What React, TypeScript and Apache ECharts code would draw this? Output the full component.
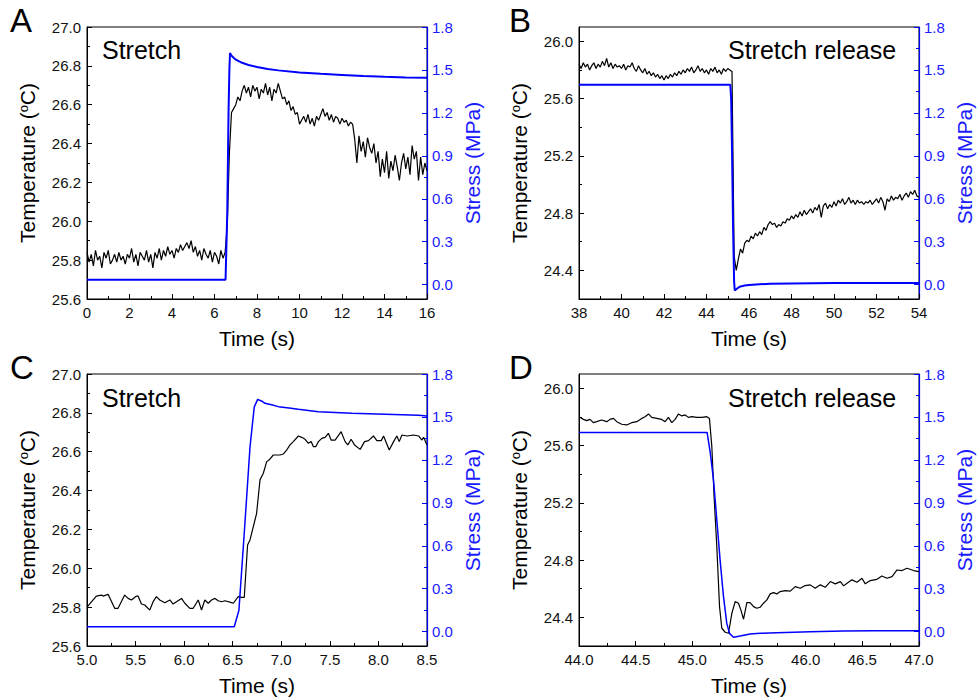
import React, { useEffect, useRef } from "react";
import * as echarts from "echarts";

const FONT = "'Liberation Sans', Arial, Helvetica, sans-serif";
const BLUE = "#0000ff";
const BLUE_TEXT = "#1a1aff";

// ---------- Panel A (Stretch, 0–16 s), temperature sampled every 0.1 s ----------
const A_T0 = 0;
const A_DT = 0.1;
const A_TEMP = [
  25.84, 25.79, 25.83, 25.77, 25.85, 25.8, 25.82, 25.76, 25.84, 25.81,
  25.85, 25.78, 25.8, 25.83, 25.79, 25.84, 25.8, 25.82, 25.78, 25.83,
  25.81, 25.86, 25.79, 25.83, 25.77, 25.84, 25.82, 25.8, 25.85, 25.79,
  25.83, 25.76, 25.84, 25.81, 25.86, 25.8, 25.85, 25.82, 25.87, 25.83,
  25.85, 25.81, 25.86, 25.84, 25.88, 25.85, 25.87, 25.89, 25.86, 25.9,
  25.84, 25.87, 25.82, 25.85, 25.8, 25.86, 25.83, 25.81, 25.85, 25.79,
  25.84, 25.82, 25.78, 25.85, 25.81, 25.84,
  25.98, 26.35, 26.56, 26.58,
  26.6, 26.64, 26.62, 26.67, 26.7, 26.66, 26.69, 26.64, 26.7, 26.67,
  26.69, 26.63, 26.68, 26.66, 26.71, 26.65, 26.69, 26.62, 26.68, 26.66,
  26.71, 26.67, 26.63, 26.64, 26.6, 26.62, 26.57, 26.59, 26.55, 26.56,
  26.5, 26.52, 26.54, 26.51, 26.55, 26.5, 26.53, 26.49, 26.54, 26.52,
  26.55, 26.58, 26.54, 26.56, 26.52, 26.55, 26.51, 26.54, 26.53, 26.5,
  26.53, 26.51, 26.52, 26.49, 26.51, 26.5, 26.42, 26.3, 26.44, 26.36,
  26.41, 26.33, 26.43, 26.38, 26.35, 26.4, 26.3, 26.36, 26.23, 26.32,
  26.25, 26.36, 26.22, 26.31, 26.26, 26.34, 26.28, 26.21, 26.3, 26.35,
  26.27, 26.33, 26.24, 26.39, 26.32, 26.36, 26.21, 26.33, 26.24, 26.3,
  26.26,
];
const A_STRESS_TIME = [0, 6.52, 6.6, 6.66, 6.7, 6.73, 6.8, 6.9, 7.0, 7.3, 7.6, 8.0, 8.5, 9.0, 10, 11, 12, 13, 14, 15, 16];
const A_STRESS = [0.035, 0.035, 0.5, 1.2, 1.5, 1.618, 1.6, 1.585, 1.572, 1.55, 1.535, 1.52, 1.507, 1.497, 1.483, 1.473, 1.465, 1.457, 1.452, 1.448, 1.445];

// ---------- Panel B (Stretch release, 38–54 s), temperature every 0.1 s ----------
const B_T0 = 38;
const B_DT = 0.1;
const B_TEMP = [
  25.84, 25.81, 25.85, 25.82, 25.84, 25.8, 25.83, 25.85, 25.81, 25.84,
  25.82, 25.86, 25.83, 25.88, 25.82, 25.85, 25.81, 25.84, 25.82, 25.83,
  25.81, 25.84, 25.8, 25.83, 25.82, 25.85, 25.81, 25.79, 25.83, 25.8,
  25.78, 25.81, 25.77, 25.79, 25.76, 25.78, 25.75, 25.77, 25.74, 25.76,
  25.73, 25.76, 25.74, 25.77, 25.75, 25.78, 25.76, 25.79, 25.77, 25.8,
  25.78, 25.81, 25.79, 25.82, 25.78, 25.8, 25.83, 25.79, 25.81, 25.78,
  25.8, 25.77, 25.81, 25.79, 25.82, 25.78, 25.8, 25.77, 25.81, 25.79,
  25.81, 25.8, 25.79,
  24.5, 24.4, 24.48,
  24.55, 24.52, 24.59, 24.61,
  24.6, 24.64, 24.62, 24.66, 24.64, 24.67, 24.65, 24.7, 24.68, 24.72,
  24.74, 24.72, 24.73, 24.7, 24.72, 24.71, 24.74, 24.73, 24.76, 24.75,
  24.78, 24.76, 24.79, 24.77, 24.81, 24.78, 24.82, 24.79, 24.81, 24.83,
  24.8, 24.84, 24.82, 24.86, 24.77, 24.85, 24.87, 24.83, 24.86, 24.84,
  24.88, 24.85, 24.89, 24.87, 24.9, 24.86, 24.88, 24.91, 24.87, 24.89,
  24.86, 24.89, 24.87, 24.88, 24.86, 24.88, 24.87, 24.89, 24.86, 24.88,
  24.9, 24.87, 24.91, 24.88, 24.82, 24.9, 24.88, 24.92, 24.89, 24.91,
  24.9, 24.93, 24.89, 24.92, 24.94, 24.91, 24.95, 24.93, 24.96, 24.92,
  24.91,
];
const B_STRESS_TIME = [38, 45.12, 45.16, 45.2, 45.25, 45.3, 45.33, 45.4, 45.5, 45.6, 45.8, 46.0, 46.5, 47.0, 48, 49, 50, 52, 54];
const B_STRESS = [1.397, 1.397, 1.3, 0.95, 0.4, 0.02, -0.04, -0.032, -0.02, -0.012, -0.006, -0.002, 0.003, 0.006, 0.008, 0.01, 0.011, 0.012, 0.012];

// ---------- Panel C (Stretch, 5.0–8.5 s) ----------
const C_TIME = [
  5.0, 5.096, 5.148, 5.165, 5.217, 5.285, 5.32, 5.388, 5.423, 5.457,
  5.509, 5.526, 5.56, 5.595, 5.646, 5.681, 5.715, 5.749, 5.801, 5.853,
  5.887, 5.921, 5.973, 6.007, 6.059, 6.093, 6.145, 6.179, 6.213, 6.248,
  6.282, 6.317, 6.351, 6.385, 6.42, 6.488, 6.506, 6.557, 6.592, 6.619,
  6.653, 6.678, 6.712, 6.746, 6.781, 6.815, 6.85, 6.873, 6.918, 6.987,
  7.021, 7.056, 7.09, 7.124, 7.176, 7.21, 7.245, 7.279, 7.307, 7.331,
  7.355, 7.382, 7.417, 7.451, 7.485, 7.513, 7.554, 7.616, 7.657, 7.685,
  7.719, 7.754, 7.812, 7.857, 7.898, 7.949, 7.984, 8.029, 8.053, 8.111,
  8.156, 8.19, 8.214, 8.242, 8.293, 8.362, 8.413, 8.448, 8.465, 8.5,
];
const C_TEMP = [
  25.8, 25.857, 25.862, 25.857, 25.866, 25.794, 25.794, 25.862, 25.845, 25.837,
  25.857, 25.857, 25.816, 25.811, 25.785, 25.828, 25.854, 25.837, 25.823, 25.837,
  25.816, 25.828, 25.845, 25.82, 25.794, 25.794, 25.837, 25.785, 25.837, 25.82,
  25.837, 25.845, 25.833, 25.828, 25.833, 25.823, 25.82, 25.854, 25.85, 25.85,
  26.12, 26.146, 26.214, 26.283, 26.455, 26.489, 26.549, 26.557, 26.583, 26.583,
  26.588, 26.609, 26.635, 26.652, 26.681, 26.674, 26.664, 26.643, 26.652, 26.626,
  26.626, 26.652, 26.669, 26.674, 26.695, 26.66, 26.66, 26.703, 26.652, 26.635,
  26.664, 26.635, 26.612, 26.652, 26.657, 26.681, 26.657, 26.657, 26.681, 26.609,
  26.652, 26.681, 26.652, 26.686, 26.681, 26.686, 26.681, 26.66, 26.674, 26.635,
];
const C_STRESS_TIME = [5.0, 6.516, 6.564, 6.62, 6.678, 6.722, 6.757, 6.8, 6.832, 6.9, 6.97, 7.08, 7.176, 7.382, 7.726, 8.07, 8.413, 8.5];
const C_STRESS = [0.035, 0.035, 0.15, 0.7, 1.29, 1.57, 1.623, 1.61, 1.595, 1.585, 1.572, 1.562, 1.553, 1.537, 1.525, 1.518, 1.511, 1.507];

// ---------- Panel D (Stretch release, 44–47 s) ----------
const D_TIME = [
  44.0, 44.039, 44.068, 44.097, 44.127, 44.156, 44.2, 44.245, 44.274, 44.304,
  44.333, 44.377, 44.421, 44.465, 44.51, 44.554, 44.583, 44.613, 44.642, 44.686,
  44.73, 44.76, 44.789, 44.819, 44.848, 44.878, 44.907, 44.936, 44.966, 44.995,
  45.039, 45.084, 45.128, 45.151, 45.172, 45.192, 45.216, 45.24, 45.26, 45.29,
  45.319, 45.349, 45.378, 45.407, 45.428, 45.452, 45.481, 45.51, 45.54, 45.569,
  45.599, 45.628, 45.658, 45.687, 45.716, 45.746, 45.775, 45.82, 45.864, 45.908,
  45.952, 45.996, 46.04, 46.084, 46.129, 46.173, 46.217, 46.261, 46.306, 46.335,
  46.365, 46.408, 46.453, 46.497, 46.526, 46.57, 46.629, 46.673, 46.717, 46.762,
  46.806, 46.85, 46.894, 46.953, 46.997,
];
const D_TEMP = [
  25.802, 25.783, 25.774, 25.783, 25.76, 25.767, 25.779, 25.767, 25.783, 25.79,
  25.767, 25.749, 25.744, 25.76, 25.767, 25.79, 25.802, 25.821, 25.797, 25.79,
  25.783, 25.767, 25.797, 25.76, 25.783, 25.821, 25.807, 25.814, 25.797, 25.802,
  25.797, 25.797, 25.802, 25.79, 25.593, 25.243, 24.894, 24.475, 24.324, 24.296,
  24.289, 24.429, 24.51, 24.499, 24.452, 24.387, 24.503, 24.503, 24.475, 24.464,
  24.471, 24.499, 24.522, 24.564, 24.573, 24.564, 24.58, 24.587, 24.583, 24.615,
  24.603, 24.622, 24.627, 24.603, 24.627, 24.61, 24.65, 24.634, 24.65, 24.62,
  24.638, 24.662, 24.645, 24.673, 24.634, 24.657, 24.666, 24.689, 24.673, 24.685,
  24.731, 24.727, 24.743, 24.727, 24.72,
];
const D_STRESS_TIME = [44.0, 45.13, 45.157, 45.187, 45.216, 45.245, 45.275, 45.304, 45.328, 45.363, 45.422, 45.51, 45.6, 45.746, 46.04, 46.335, 46.6, 47.0];
const D_STRESS = [1.392, 1.392, 1.257, 1.06, 0.78, 0.5, 0.245, 0.058, -0.012, -0.039, -0.03, -0.016, -0.011, -0.007, 0.0, 0.005, 0.006, 0.007];

// ---------- Tick labels ----------
const STRESS_TICKS = [0, 0.3, 0.6, 0.9, 1.2, 1.5, 1.8];
const STRESS_MINOR = [0.15, 0.45, 0.75, 1.05, 1.35, 1.65];
const REL_TEMP_TICKS = [24.4, 24.8, 25.2, 25.6, 26.0];
const REL_TEMP_MINOR = [24.6, 25.0, 25.4, 25.8];

const uniformPairs = (t0: number, dt: number, vals: number[]) =>
  vals.map((v, i) => [Math.round((t0 + i * dt) * 1000) / 1000, v]);
const zipPairs = (ts: number[], vs: number[]) => ts.map((t, i) => [t, vs[i]]);

const GRIDS = [
  { left: 87, top: 27, width: 340, height: 272 },
  { left: 579, top: 27, width: 340, height: 272 },
  { left: 87, top: 374, width: 340, height: 272 },
  { left: 579, top: 374, width: 340, height: 272 },
];

const tempName = "{t|Temperature (}{s|o}{t|C)}";
const tempNameStyle = {
  rich: {
    t: { fontSize: 21, fontFamily: FONT, color: "#000" },
    s: { fontSize: 13, fontFamily: FONT, color: "#000", verticalAlign: "top", lineHeight: 11 },
  },
};

function xAxis(gi: number, min: number, max: number, interval: number, dec: number) {
  return {
    type: "value",
    gridIndex: gi,
    min,
    max,
    interval,
    name: "Time (s)",
    nameLocation: "middle",
    nameGap: 29,
    nameTextStyle: { fontSize: 21, color: "#000", fontFamily: FONT },
    axisLine: { show: true, onZero: false, lineStyle: { color: "#000", width: 1 } },
    axisTick: { show: true, inside: true, length: 5, lineStyle: { color: "#000" } },
    minorTick: { show: true, splitNumber: 2, length: 3, lineStyle: { color: "#000" } },
    axisLabel: {
      fontSize: 15,
      color: "#111",
      margin: 6,
      fontFamily: FONT,
      formatter: (v: number) => v.toFixed(dec),
    },
    splitLine: { show: false },
    minorSplitLine: { show: false },
  };
}

function leftStretchAxis(gi: number) {
  return {
    type: "value",
    gridIndex: gi,
    position: "left",
    min: 25.6,
    max: 27.0,
    interval: 0.2,
    name: tempName,
    nameLocation: "middle",
    nameGap: 49,
    nameTextStyle: tempNameStyle,
    axisLine: { show: true, onZero: false, lineStyle: { color: "#000", width: 1 } },
    axisTick: { show: true, inside: true, length: 5, lineStyle: { color: "#000" } },
    minorTick: { show: true, splitNumber: 2, length: 3, lineStyle: { color: "#000" } },
    axisLabel: { fontSize: 15, color: "#111", margin: 6, fontFamily: FONT, formatter: (v: number) => v.toFixed(1) },
    splitLine: { show: false },
    minorSplitLine: { show: false },
  };
}

function leftReleaseAxis(gi: number) {
  return {
    type: "value",
    gridIndex: gi,
    position: "left",
    min: 24.2,
    max: 26.1,
    name: tempName,
    nameLocation: "middle",
    nameGap: 49,
    nameTextStyle: tempNameStyle,
    axisLine: { show: true, onZero: false, lineStyle: { color: "#000", width: 1 } },
    axisTick: { show: true, inside: true, length: 5, customValues: REL_TEMP_TICKS, lineStyle: { color: "#000" } },
    axisLabel: {
      fontSize: 15,
      color: "#111",
      margin: 6,
      fontFamily: FONT,
      customValues: REL_TEMP_TICKS,
      formatter: (v: number) => v.toFixed(1),
    },
    splitLine: { show: false },
  };
}

function minorAxis(gi: number, position: string, min: number, max: number, values: number[], color: string) {
  return {
    type: "value",
    gridIndex: gi,
    position,
    min,
    max,
    axisLine: { show: false, onZero: false },
    axisTick: { show: true, inside: true, length: 3, customValues: values, lineStyle: { color } },
    axisLabel: { show: false, customValues: values },
    splitLine: { show: false },
  };
}

function rightAxis(gi: number) {
  return {
    type: "value",
    gridIndex: gi,
    position: "right",
    min: -0.1,
    max: 1.8,
    name: "Stress (MPa)",
    nameLocation: "middle",
    nameGap: 35,
    nameTextStyle: { fontSize: 21, color: BLUE_TEXT, fontFamily: FONT },
    axisLine: { show: true, onZero: false, lineStyle: { color: BLUE, width: 1.2 } },
    axisTick: { show: true, inside: true, length: 5, customValues: STRESS_TICKS, lineStyle: { color: BLUE } },
    axisLabel: {
      fontSize: 15,
      color: BLUE_TEXT,
      margin: 5,
      fontFamily: FONT,
      customValues: STRESS_TICKS,
      formatter: (v: number) => v.toFixed(1),
    },
    splitLine: { show: false },
  };
}

function line(data: number[][], xi: number, yi: number, color: string, width: number, z = 2) {
  return {
    type: "line",
    xAxisIndex: xi,
    yAxisIndex: yi,
    data,
    showSymbol: false,
    symbol: "none",
    lineStyle: { color, width },
    itemStyle: { color },
    z,
    silent: true,
  };
}

function label(text: string, x: number, y: number, size: number) {
  return {
    type: "text",
    x,
    y,
    style: {
      text,
      fontSize: size,
      fontFamily: FONT,
      fill: "#000",
      align: "left",
      verticalAlign: "middle",
    },
  };
}

export default function App() {
  const ref = useRef<HTMLDivElement>(null);

  useEffect(() => {
    if (!ref.current) return;
    const chart = echarts.init(ref.current, null, { renderer: "svg" });

    const yAxes: any[] = [];
    // grid 0 (A)
    yAxes.push(leftStretchAxis(0)); // 0
    yAxes.push(rightAxis(0)); // 1
    yAxes.push(minorAxis(0, "right", -0.1, 1.8, STRESS_MINOR, BLUE)); // 2
    // grid 1 (B)
    yAxes.push(leftReleaseAxis(1)); // 3
    yAxes.push(minorAxis(1, "left", 24.2, 26.1, REL_TEMP_MINOR, "#000")); // 4
    yAxes.push(rightAxis(1)); // 5
    yAxes.push(minorAxis(1, "right", -0.1, 1.8, STRESS_MINOR, BLUE)); // 6
    // grid 2 (C)
    yAxes.push(leftStretchAxis(2)); // 7
    yAxes.push(rightAxis(2)); // 8
    yAxes.push(minorAxis(2, "right", -0.1, 1.8, STRESS_MINOR, BLUE)); // 9
    // grid 3 (D)
    yAxes.push(leftReleaseAxis(3)); // 10
    yAxes.push(minorAxis(3, "left", 24.2, 26.1, REL_TEMP_MINOR, "#000")); // 11
    yAxes.push(rightAxis(3)); // 12
    yAxes.push(minorAxis(3, "right", -0.1, 1.8, STRESS_MINOR, BLUE)); // 13

    const option: any = {
      animation: false,
      backgroundColor: "#ffffff",
      textStyle: { fontFamily: FONT },
      grid: GRIDS.map((g) => ({
        ...g,
        show: true,
        borderColor: "#000",
        borderWidth: 1,
        backgroundColor: "transparent",
        containLabel: false,
      })),
      xAxis: [
        xAxis(0, 0, 16, 2, 0),
        xAxis(1, 38, 54, 2, 0),
        xAxis(2, 5.0, 8.5, 0.5, 1),
        xAxis(3, 44.0, 47.0, 0.5, 1),
      ],
      yAxis: yAxes,
      series: [
        line(uniformPairs(A_T0, A_DT, A_TEMP), 0, 0, "#000", 1.2),
        line(zipPairs(A_STRESS_TIME, A_STRESS), 0, 1, BLUE, 2, 3),
        line(uniformPairs(B_T0, B_DT, B_TEMP), 1, 3, "#000", 1.2),
        line(zipPairs(B_STRESS_TIME, B_STRESS), 1, 5, BLUE, 2, 3),
        line(zipPairs(C_TIME, C_TEMP), 2, 7, "#000", 1.2),
        line(zipPairs(C_STRESS_TIME, C_STRESS), 2, 8, BLUE, 1.5, 3),
        line(zipPairs(D_TIME, D_TEMP), 3, 10, "#000", 1.2),
        line(zipPairs(D_STRESS_TIME, D_STRESS), 3, 12, BLUE, 1.5, 3),
      ],
      graphic: [
        label("A", 10, 20, 33),
        label("B", 509, 20, 33),
        label("C", 10, 367, 33),
        label("D", 509, 367, 33),
        label("Stretch", 102, 50, 25),
        label("Stretch release", 728, 50, 25),
        label("Stretch", 102, 398, 25),
        label("Stretch release", 728, 398, 25),
      ],
    };

    chart.setOption(option);
    return () => chart.dispose();
  }, []);

  return (
    <div
      ref={ref}
      style={{ position: "absolute", left: 0, top: 0, width: 980, height: 700, background: "#fff" }}
    />
  );
}
